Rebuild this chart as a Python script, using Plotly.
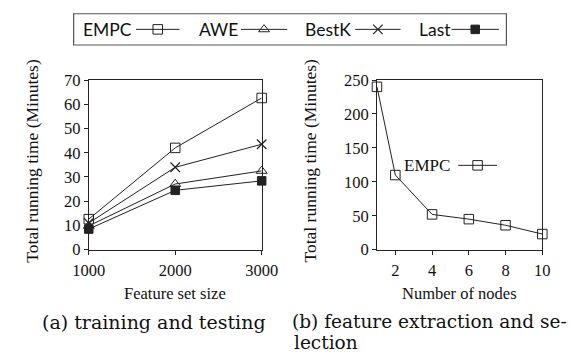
import plotly.graph_objects as go

# ---- data ----
feature_sizes = [1000, 2000, 3000]
empc_a = [12.6, 42.0, 62.6]
awe_a = [9.8, 27.1, 32.5]
bestk_a = [11.0, 34.0, 43.5]
last_a = [8.5, 24.5, 28.4]

nodes = [1, 2, 4, 6, 8, 10]
empc_b = [240, 110, 52, 45, 36, 23]

W, H = 581, 362
LC = "#222222"
SERIF = "Liberation Serif"

def px_x(p):
    return p / W

def px_y(p):
    return (H - p) / H

fig = go.Figure()

styles = {
    "EMPC": dict(symbol="square-open", size=9.5, color=LC, line=dict(width=1, color=LC)),
    "AWE": dict(symbol="triangle-up-open", size=9.5, color=LC, line=dict(width=1, color=LC)),
    "BestK": dict(symbol="x-thin-open", size=9.5, color=LC, line=dict(width=1.2, color=LC)),
    "Last": dict(symbol="square", size=8.5, color=LC, line=dict(width=1, color=LC)),
}

for name, ys in [("EMPC", empc_a), ("BestK", bestk_a), ("AWE", awe_a), ("Last", last_a)]:
    fig.add_trace(go.Scatter(x=feature_sizes, y=ys, mode="lines+markers", name=name,
                             line=dict(color=LC, width=1), marker=styles[name],
                             cliponaxis=False, showlegend=False, xaxis="x", yaxis="y"))

fig.add_trace(go.Scatter(x=nodes, y=empc_b, mode="lines+markers", name="EMPC",
                         line=dict(color=LC, width=1), marker=styles["EMPC"],
                         cliponaxis=False, showlegend=False, xaxis="x2", yaxis="y2"))

# ---- legend samples drawn on a pixel overlay axis ----
legend_items = [
    ("EMPC", 96.5, 127, 173),
    ("AWE", 214, 238, 287),
    ("BestK", 330.5, 359, 407),
    ("Last", 443, 461, 511),
]
LEG_Y = 21.5
for name, tx, l0, l1 in legend_items:
    fig.add_trace(go.Scatter(x=[l0, l1], y=[LEG_Y, LEG_Y], mode="lines",
                             line=dict(color=LC, width=1), showlegend=False,
                             xaxis="x3", yaxis="y3", cliponaxis=False, hoverinfo="skip"))
    fig.add_trace(go.Scatter(x=[(l0 + l1) / 2], y=[LEG_Y], mode="markers",
                             marker=styles[name], showlegend=False,
                             xaxis="x3", yaxis="y3", cliponaxis=False, hoverinfo="skip"))
    fig.add_annotation(x=px_x(tx), y=px_y(LEG_Y), xref="paper", yref="paper",
                       text=name, showarrow=False, xanchor="center", yanchor="middle",
                       font=dict(family="Lato", size=17.5, color="#111"))

# inner legend in panel (b)
fig.add_trace(go.Scatter(x=[468, 509], y=[165, 165], mode="lines",
                         line=dict(color=LC, width=1), showlegend=False,
                         xaxis="x3", yaxis="y3", cliponaxis=False, hoverinfo="skip"))
fig.add_trace(go.Scatter(x=[488.5], y=[165], mode="markers", marker=styles["EMPC"],
                         showlegend=False, xaxis="x3", yaxis="y3", cliponaxis=False,
                         hoverinfo="skip"))
fig.add_annotation(x=px_x(435), y=px_y(165), xref="paper", yref="paper", text="EMPC",
                   showarrow=False, xanchor="center", yanchor="middle",
                   font=dict(family=SERIF, size=17, color="#111"))

# legend box
fig.add_shape(type="rect", xref="paper", yref="paper",
              x0=px_x(61), x1=px_x(519), y0=px_y(38), y1=px_y(5),
              line=dict(color="#555", width=1.2))

axis_common = dict(showline=True, linecolor=LC, linewidth=1, mirror=True,
                   ticks="outside", ticklen=4, tickcolor=LC, showgrid=False,
                   zeroline=False, tickfont=dict(family=SERIF, size=16.5, color="#111"))

ydom = [px_y(254), px_y(75)]
fig.update_layout(
    width=W, height=H, margin=dict(l=0, r=0, t=0, b=0),
    paper_bgcolor="white", plot_bgcolor="rgba(0,0,0,0)", showlegend=False,
    xaxis=dict(domain=[px_x(77), px_x(260)], range=[1000, 3000],
               tickvals=feature_sizes, anchor="y", ticklabelstandoff=2, **axis_common),
    yaxis=dict(domain=ydom, range=[0, 70], dtick=10, anchor="x", **axis_common),
    xaxis2=dict(domain=[px_x(382), px_x(557)], range=[1, 10],
                tickvals=[2, 4, 6, 8, 10], anchor="y2", ticklabelstandoff=2, **axis_common),
    yaxis2=dict(domain=ydom, range=[0, 250], dtick=50, anchor="x2", **axis_common),
    xaxis3=dict(domain=[0, 1], range=[0, W], visible=False, anchor="y3", fixedrange=True),
    yaxis3=dict(domain=[0, 1], range=[H, 0], visible=False, anchor="x3", fixedrange=True),
)

# axis titles
def ann(x, y, text, size=16, family=SERIF, angle=0, xanchor="center"):
    fig.add_annotation(x=px_x(x), y=px_y(y), xref="paper", yref="paper", text=text,
                       showarrow=False, textangle=angle, xanchor=xanchor, yanchor="middle",
                       font=dict(family=family, size=size, color="#111"))

ann(168.5, 300, "Feature set size", size=16.5)
ann(469.5, 300, "Number of nodes", size=16.5)
ann(17, 160, "Total running time (Minutes)", size=17.5, angle=-90)
ann(311, 160, "Total running time (Minutes)", size=17.5, angle=-90)

# captions
ann(146.5, 330, "(a) training and testing", size=19, family="DejaVu Serif")
ann(438, 330, "(b) feature extraction and se-", size=18.5, family="DejaVu Serif")
ann(328, 351.5, "lection", size=18.5, family="DejaVu Serif")

fig.write_html("out.html")
